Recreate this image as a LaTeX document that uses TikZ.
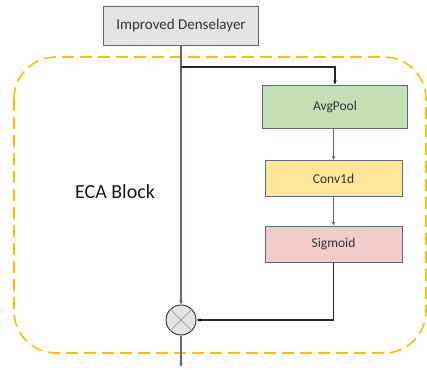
\documentclass[tikz,border=0pt]{standalone}
\usepackage{fontspec}
\setmainfont{Carlito}
\usetikzlibrary{arrows.meta}
\definecolor{boxline}{HTML}{5A6A7E}
\definecolor{grayfill}{HTML}{E4E4E4}
\definecolor{greenfill}{HTML}{C5E0B4}
\definecolor{yellowfill}{HTML}{FFE699}
\definecolor{pinkfill}{HTML}{F4CCCC}
\definecolor{ecagold}{HTML}{FFC000}
\definecolor{txt}{HTML}{333333}

\begin{document}
\begin{tikzpicture}[x=1pt,y=-1pt,
  blk/.style={draw=boxline, line width=1pt, text=txt,
    minimum width=137pt, minimum height=36pt,
    font=\fontsize{13.5}{16}\selectfont},
  flow/.style={draw=boxline, line width=1.2pt, -{Stealth[length=4pt,width=3.5pt]}},
  link/.style={draw=black!85, line width=1.2pt, -{Stealth[length=4pt,width=3.5pt]}}]
  \useasboundingbox (0,0) rectangle (427,369);
  % ECA block frame
  \draw[ecagold, line width=1.6pt, dash pattern=on 12pt off 6pt, rounded corners=42pt]
    (14,57) rectangle (426,353);
  \node[text=black!90, font=\fontsize{20}{24}\selectfont] (eca) at (115,192) {ECA Block};
  % boxes
  \node[blk, fill=grayfill, minimum width=155pt, minimum height=38pt,
    font=\fontsize{15}{18}\selectfont] (dense) at (181,26) {Improved Denselayer};
  \node[blk, fill=greenfill, minimum width=145pt, minimum height=43pt] (avg) at (335,106.5) {AvgPool};
  \node[blk, fill=yellowfill] (conv) at (333.5,178.5) {Conv1d};
  \node[blk, fill=pinkfill] (sig) at (333.5,244) {Sigmoid};
  \node[circle, draw=black!75, line width=1pt, fill=grayfill, minimum size=30pt, inner sep=0pt] (mul) at (181,320) {};
  \draw[black!45, line width=0.6pt] (mul.north west) -- (mul.south east);
  \draw[black!45, line width=0.6pt] (mul.north east) -- (mul.south west);
  \coordinate (split) at (181,67);
  \coordinate (out) at (181,367);
  % connectors
  \draw[flow] (dense) -- (mul);
  \draw[link] (split) -| (avg.north);
  \draw[flow] (avg.south -| conv.north) -- (conv);
  \draw[flow] (conv) -- (sig);
  \draw[link] (sig.south) |- (mul.east);
  \draw[flow] (mul) -- (out);
\end{tikzpicture}
\end{document}
